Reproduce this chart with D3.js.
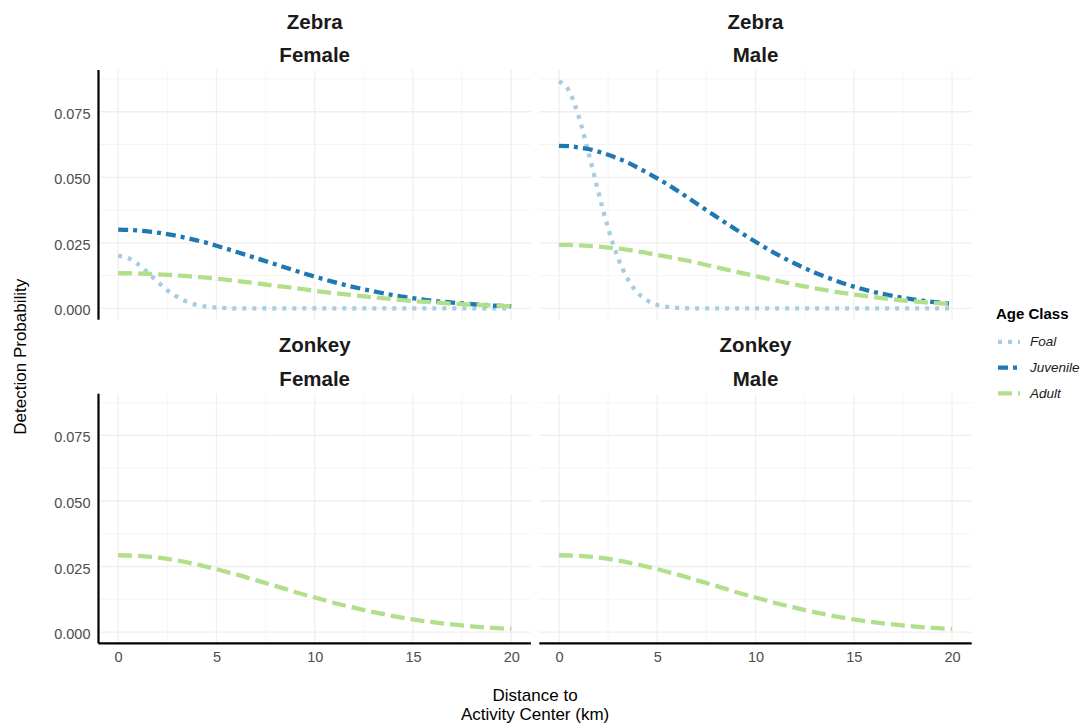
<!DOCTYPE html>
<html>
<head>
<meta charset="utf-8">
<script src="https://cdn.jsdelivr.net/npm/d3@7"></script>
<style>
  body { margin: 0; background: #fff; }
  svg { font-family: "Liberation Sans", Arial, Helvetica, sans-serif; }
</style>
</head>
<body>
<svg id="chart" width="1081" height="725"></svg>
<script>
const distance = [0, 0.5, 1, 1.5, 2, 2.5, 3, 3.5, 4, 4.5, 5, 6, 7, 8, 9, 10, 11, 12, 13, 14, 15, 16, 17, 18, 19, 20];

// detection probability
const zebraFemaleFoal = [0.0200, 0.0192, 0.0169, 0.0137, 0.0102, 0.0069, 0.0044, 0.0025, 0.0013, 0.0006, 0.0003, 0.0000, 0, 0, 0, 0, 0, 0, 0, 0, 0, 0, 0, 0, 0, 0];
const zebraFemaleJuvenile = [0.0300, 0.0299, 0.0297, 0.0294, 0.0289, 0.0283, 0.0276, 0.0268, 0.0259, 0.0250, 0.0239, 0.0216, 0.0192, 0.0168, 0.0144, 0.0121, 0.0100, 0.0081, 0.0065, 0.0050, 0.0039, 0.0029, 0.0022, 0.0016, 0.0011, 0.0008];
const zebraFemaleAdult = [0.0134, 0.0134, 0.0133, 0.0132, 0.0130, 0.0128, 0.0126, 0.0123, 0.0120, 0.0117, 0.0113, 0.0105, 0.0096, 0.0086, 0.0077, 0.0067, 0.0058, 0.0050, 0.0042, 0.0035, 0.0028, 0.0023, 0.0018, 0.0014, 0.0011, 0.0008];

const zebraMaleFoal = [0.0866, 0.0831, 0.0733, 0.0595, 0.0445, 0.0306, 0.0193, 0.0112, 0.0060, 0.0030, 0.0013, 0.0002, 0, 0, 0, 0, 0, 0, 0, 0, 0, 0, 0, 0, 0, 0];
const zebraMaleJuvenile = [0.0620, 0.0619, 0.0614, 0.0608, 0.0598, 0.0586, 0.0572, 0.0556, 0.0537, 0.0517, 0.0496, 0.0450, 0.0400, 0.0350, 0.0301, 0.0254, 0.0210, 0.0171, 0.0137, 0.0108, 0.0083, 0.0063, 0.0047, 0.0034, 0.0025, 0.0017];
const zebraMaleAdult = [0.0242, 0.0242, 0.0240, 0.0238, 0.0236, 0.0232, 0.0228, 0.0223, 0.0217, 0.0211, 0.0204, 0.0190, 0.0174, 0.0157, 0.0140, 0.0123, 0.0107, 0.0091, 0.0077, 0.0064, 0.0053, 0.0043, 0.0034, 0.0027, 0.0021, 0.0016];

const zonkeyFemaleAdult = [0.0293, 0.0292, 0.0291, 0.0288, 0.0284, 0.0279, 0.0273, 0.0266, 0.0258, 0.0249, 0.0240, 0.0220, 0.0198, 0.0176, 0.0153, 0.0132, 0.0111, 0.0093, 0.0076, 0.0061, 0.0048, 0.0038, 0.0029, 0.0022, 0.0016, 0.0012];
const zonkeyMaleAdult = [0.0293, 0.0292, 0.0291, 0.0288, 0.0284, 0.0279, 0.0273, 0.0266, 0.0258, 0.0249, 0.0240, 0.0220, 0.0198, 0.0176, 0.0153, 0.0132, 0.0111, 0.0093, 0.0076, 0.0061, 0.0048, 0.0038, 0.0029, 0.0022, 0.0016, 0.0012];

const ageClasses = ["Foal", "Juvenile", "Adult"];
const species = ["Zebra", "Zonkey"];
const sexes = ["Female", "Male"];
const xTicks = [0, 5, 10, 15, 20];
const yTicks = [0, 0.025, 0.05, 0.075];

// panels in facet order (row = species, column = sex)
const panels = [
  { row: 0, col: 0, series: [["Foal", zebraFemaleFoal], ["Juvenile", zebraFemaleJuvenile], ["Adult", zebraFemaleAdult]] },
  { row: 0, col: 1, series: [["Foal", zebraMaleFoal], ["Juvenile", zebraMaleJuvenile], ["Adult", zebraMaleAdult]] },
  { row: 1, col: 0, series: [["Adult", zonkeyFemaleAdult]] },
  { row: 1, col: 1, series: [["Adult", zonkeyMaleAdult]] }
];

// styling
const color = d3.scaleOrdinal().domain(ageClasses).range(["#a6cee3", "#1f78b4", "#b2df8a"]);
const dash = d3.scaleOrdinal().domain(ageClasses).range(["4,6", "10,5,4,5", "14,6"]);

const panelW = 432.4, panelH = 249.7;
const colX = [98.5, 539.3];
const rowY = [70, 393.7];

const svg = d3.select("#chart");

// shared scales with ggplot-like 5% expansion
const xExt = d3.extent(distance);
const xPad = (xExt[1] - xExt[0]) * 0.05;
const x = d3.scaleLinear().domain([xExt[0] - xPad, xExt[1] + xPad]).range([0, panelW]);

const allVals = panels.flatMap(p => p.series.flatMap(s => s[1]));
const yMax = d3.max(allVals), yMin = d3.min(allVals);
const yPad = (yMax - yMin) * 0.05;
const y = d3.scaleLinear().domain([yMin - yPad, yMax + yPad]).range([panelH, 0]);

const line = d3.line()
  .x((d, i) => x(distance[i]))
  .y(d => y(d))
  .curve(d3.curveMonotoneX);

const xMinor = [2.5, 7.5, 12.5, 17.5];
const yMinor = [0.0125, 0.0375, 0.0625, 0.0875];

panels.forEach(p => {
  const g = svg.append("g").attr("transform", `translate(${colX[p.col]},${rowY[p.row]})`);

  // minor grid
  g.selectAll(".vminor").data(xMinor).enter().append("line")
    .attr("x1", d => x(d)).attr("x2", d => x(d))
    .attr("y1", 0).attr("y2", panelH)
    .attr("stroke", "#f4f4f4").attr("stroke-width", 0.9);
  g.selectAll(".hminor").data(yMinor.filter(v => v <= y.domain()[1])).enter().append("line")
    .attr("x1", 0).attr("x2", panelW)
    .attr("y1", d => y(d)).attr("y2", d => y(d))
    .attr("stroke", "#f4f4f4").attr("stroke-width", 0.9);

  // major grid
  g.selectAll(".vmajor").data(xTicks).enter().append("line")
    .attr("x1", d => x(d)).attr("x2", d => x(d))
    .attr("y1", 0).attr("y2", panelH)
    .attr("stroke", "#efefef").attr("stroke-width", 1.3);
  g.selectAll(".hmajor").data(yTicks).enter().append("line")
    .attr("x1", 0).attr("x2", panelW)
    .attr("y1", d => y(d)).attr("y2", d => y(d))
    .attr("stroke", "#efefef").attr("stroke-width", 1.3);

  // curves
  p.series.forEach(([cls, vals]) => {
    g.append("path")
      .datum(vals)
      .attr("d", line)
      .attr("fill", "none")
      .attr("stroke", color(cls))
      .attr("stroke-width", 4.3)
      .attr("stroke-dasharray", dash(cls))
      .attr("stroke-linecap", "butt");
  });

  // y axis on left column
  if (p.col === 0) {
    const ay = g.append("g").call(d3.axisLeft(y).tickValues(yTicks).tickSize(0).tickPadding(8).tickFormat(d3.format(".3f")));
    ay.select(".domain").remove();
    ay.selectAll("text").attr("fill", "#4d4d4d").style("font-size", "14.5px").attr("dy", "0.45em");
    g.append("line").attr("x1", 0).attr("x2", 0).attr("y1", 0).attr("y2", panelH)
      .attr("stroke", "#000").attr("stroke-width", 2.2);
  }
  // x axis on bottom row
  if (p.row === 1) {
    const ax = g.append("g").attr("transform", `translate(0,${panelH})`)
      .call(d3.axisBottom(x).tickValues(xTicks).tickSize(0).tickPadding(8));
    ax.select(".domain").remove();
    ax.selectAll("text").attr("fill", "#4d4d4d").style("font-size", "14.5px");
    g.append("line").attr("x1", 0).attr("x2", panelW).attr("y1", panelH).attr("y2", panelH)
      .attr("stroke", "#000").attr("stroke-width", 2.2);
  }

  // strip labels
  g.append("text").attr("x", panelW / 2).attr("y", -41.5)
    .attr("text-anchor", "middle").style("font-size", "20.5px").style("font-weight", "bold")
    .attr("fill", "#1a1a1a").text(species[p.row]);
  g.append("text").attr("x", panelW / 2).attr("y", -8)
    .attr("text-anchor", "middle").style("font-size", "20.5px").style("font-weight", "bold")
    .attr("fill", "#1a1a1a").text(sexes[p.col]);
});

// axis titles
const midX = (colX[0] + colX[1] + panelW) / 2;
const xTitle = svg.append("text").attr("text-anchor", "middle").style("font-size", "17px").attr("fill", "#000");
xTitle.append("tspan").attr("x", midX).attr("y", 701).text("Distance to");
xTitle.append("tspan").attr("x", midX).attr("y", 720).text("Activity Center (km)");

svg.append("text")
  .attr("transform", `translate(26,${(rowY[0] + rowY[1] + panelH) / 2}) rotate(-90)`)
  .attr("text-anchor", "middle").style("font-size", "17px").attr("fill", "#000")
  .text("Detection Probability");

// legend
const legend = svg.append("g").attr("transform", "translate(996,319.3)");
legend.append("text").style("font-size", "15px").style("font-weight", "bold").text("Age Class");
ageClasses.forEach((cls, i) => {
  const item = legend.append("g").attr("transform", `translate(0,${22.5 + i * 25.8})`);
  item.append("line").attr("x1", 2).attr("x2", 24).attr("y1", 0).attr("y2", 0)
    .attr("stroke", color(cls)).attr("stroke-width", 4.3)
    .attr("stroke-dasharray", dash(cls));
  item.append("text").attr("x", 34).attr("y", 4.6)
    .style("font-size", "13.5px").style("font-style", "italic").attr("fill", "#1a1a1a")
    .text(cls);
});
</script>
</body>
</html>
